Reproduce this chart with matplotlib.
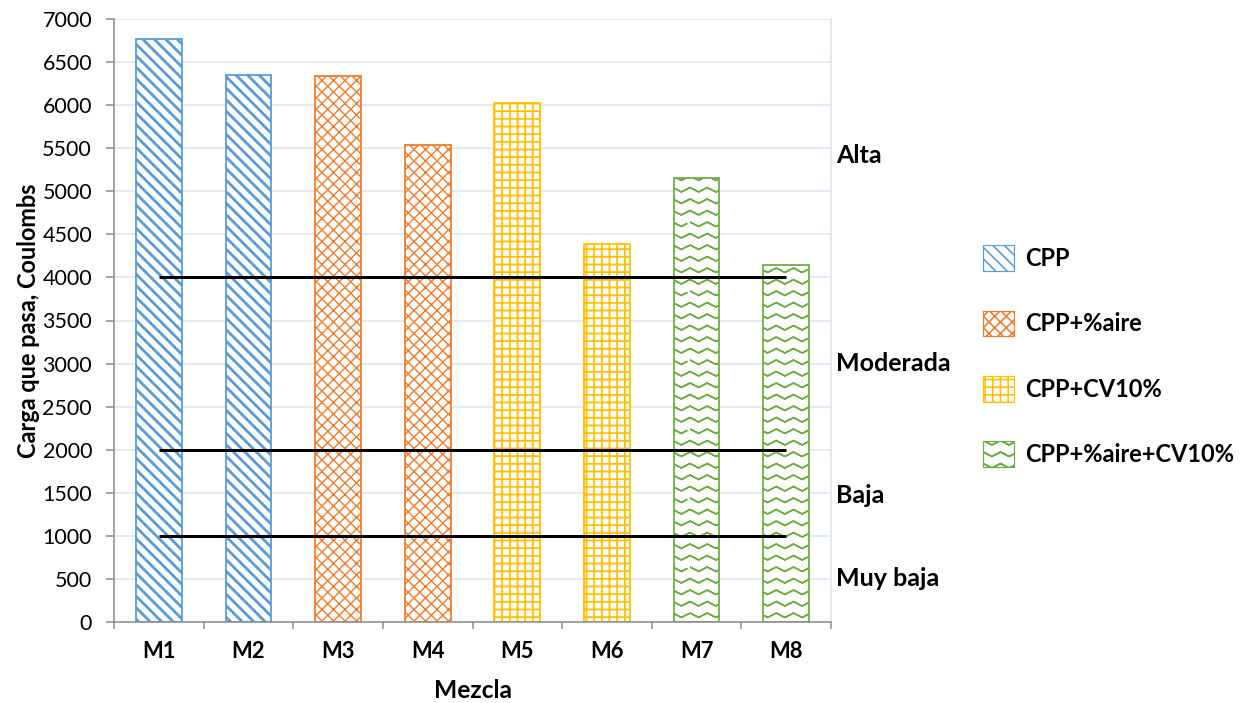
import warnings
import numpy as np
import matplotlib
matplotlib.use('Agg')
import matplotlib.pyplot as plt
from matplotlib import hatch as mhatch
from matplotlib.patches import Patch
from matplotlib.path import Path
from matplotlib.transforms import blended_transform_factory

warnings.filterwarnings('ignore')  # 'z' and 'g' hatches are not built-in symbols

# data
mezclas = ['M1', 'M2', 'M3', 'M4', 'M5', 'M6', 'M7', 'M8']
carga = [6770, 6350, 6340, 5540, 6030, 4390, 5160, 4150]
grupo_mezcla = [0, 0, 1, 1, 2, 2, 3, 3]
grupos = ['CPP', 'CPP+%aire', 'CPP+CV10%', 'CPP+%aire+CV10%']
limites = [4000, 2000, 1000]
niveles = ['Alta', 'Moderada', 'Baja', 'Muy baja']
niveles_y = [5420, 3000, 1470, 500]

colores = ['#5B9BD5', '#ED7D31', '#FFC000', '#70AD47']
tramas = ['\\\\', 'xx', 'g', 'z']
grosor_trama = [2.8, 1.4, 1.8, 1.5]   # px

DPI = 69
W, H = 1241, 703


def px(p):
    # pixels -> points at this dpi
    return p * 72.0 / DPI


class ZigzagHatch(mhatch.HatchPatternBase):
    # wavy horizontal lines, like the excel "wave" pattern.
    # agg also fills hatch paths, so each row goes out and back on itself
    def __init__(self, hatch, density):
        self.num_rows = int(hatch.count('z') * density)
        self.n = 2 * 4 + 1
        self.per_row = 2 * self.n - 1
        self.num_vertices = self.num_rows * self.per_row

    def set_vertices_and_codes(self, vertices, codes):
        n, m = self.n, self.per_row
        ys = (np.arange(self.num_rows) + 0.5) / self.num_rows
        xs = np.linspace(0.0, 1.0, n)
        amp = 0.032 * np.where(np.arange(n) % 2 == 0, 1.0, -1.0)
        xs = np.concatenate([xs, xs[-2::-1]])
        amp = np.concatenate([amp, amp[-2::-1]])
        for i, y in enumerate(ys):
            vertices[i*m:(i+1)*m, 0] = xs
            vertices[i*m:(i+1)*m, 1] = y + amp
            codes[i*m:(i+1)*m] = Path.LINETO
            codes[i*m] = Path.MOVETO


class GridHatch(mhatch.HatchPatternBase):
    # small square grid, a bit coarser than '++'
    def __init__(self, hatch, density):
        self.num_lines = int(hatch.count('g') * density * 1.5)
        self.num_vertices = self.num_lines * 4

    def set_vertices_and_codes(self, vertices, codes):
        steps = (np.arange(self.num_lines) + 0.5) / self.num_lines
        m = self.num_lines * 2
        vertices[0:m:2, 0] = 0.0
        vertices[0:m:2, 1] = steps
        vertices[1:m:2, 0] = 1.0
        vertices[1:m:2, 1] = steps
        vertices[m::2, 0] = steps
        vertices[m::2, 1] = 0.0
        vertices[m + 1::2, 0] = steps
        vertices[m + 1::2, 1] = 1.0
        codes[0::2] = Path.MOVETO
        codes[1::2] = Path.LINETO


mhatch._hatch_types.append(ZigzagHatch)
mhatch._hatch_types.append(GridHatch)

plt.rcParams['font.family'] = ['Lato', 'DejaVu Sans']
plt.rcParams['hatch.linewidth'] = px(1.6)

fig = plt.figure(figsize=(W / DPI, H / DPI), dpi=DPI)
ax = fig.add_axes([114 / W, 1 - 622 / H, (831 - 114) / W, (622 - 19) / H])

x = np.arange(len(mezclas))
for i in range(len(mezclas)):
    g = grupo_mezcla[i]
    b = ax.bar(x[i], carga[i], width=0.51, facecolor='white',
               edgecolor=colores[g], hatch=tramas[g], linewidth=px(1.8), zorder=2)
    for p in b:
        if hasattr(p, 'set_hatch_linewidth'):
            p.set_hatch_linewidth(px(grosor_trama[g]))

for lim in limites:
    ax.hlines(lim, x[0], x[-1], color='black', linewidth=px(3), zorder=3)

ax.set_xlim(-0.5, len(mezclas) - 0.5)
ax.set_ylim(0, 7000)
ax.set_yticks(np.arange(0, 7001, 500))
ax.grid(axis='y', color='#DAE3F3', linewidth=px(1.5), zorder=0)
ax.set_axisbelow(True)

ax.set_xticks(x)
ax.set_xticklabels(mezclas, fontsize=px(22), fontweight='bold')
ax.set_xticks(np.arange(-0.5, len(mezclas)), minor=True)
ax.tick_params(axis='x', which='major', length=0, pad=px(19))
ax.tick_params(axis='x', which='minor', length=px(7), width=px(1.5), color='#898989')
ax.tick_params(axis='y', length=px(8), width=px(1.5), color='#898989',
               labelsize=px(21.5), pad=px(14))

for s in ['left', 'bottom']:
    ax.spines[s].set_color('#898989')
    ax.spines[s].set_linewidth(px(1.5))
ax.spines['top'].set_visible(False)
ax.spines['right'].set_color('#DAE3F3')
ax.spines['right'].set_linewidth(px(1.5))

ax.set_xlabel('Mezcla', fontsize=px(24.5), fontweight='bold')
ax.xaxis.set_label_coords(0.5, -(690 - 622) / (622 - 19))
ax.xaxis.label.set_va('center')
ax.set_ylabel('Carga que pasa, Coulombs', fontsize=px(23.5), fontweight='bold')
ax.yaxis.set_label_coords(-(114 - 28) / (831 - 114), 0.5)
ax.yaxis.label.set_va('center')

tr = blended_transform_factory(ax.transAxes, ax.transData)
for nom, yy in zip(niveles, niveles_y):
    ax.text((836 - 114) / (831 - 114), yy, nom, transform=tr, fontsize=px(25),
            fontweight='bold', ha='left', va='center')

handles = []
for k in range(len(grupos)):
    h = Patch(facecolor='white', edgecolor=colores[k], hatch=tramas[k], linewidth=px(1.2))
    if hasattr(h, 'set_hatch_linewidth'):
        h.set_hatch_linewidth(px(grosor_trama[k]))
    handles.append(h)
fig.legend(handles, grupos, loc='upper left', bbox_to_anchor=(962 / W, 1 - 224 / H),
           frameon=False, prop={'size': px(23.5), 'weight': 'bold'},
           handlelength=1.32, handleheight=1.32, labelspacing=1.68, handletextpad=0.45)

fig.savefig('out.png', dpi=DPI)
